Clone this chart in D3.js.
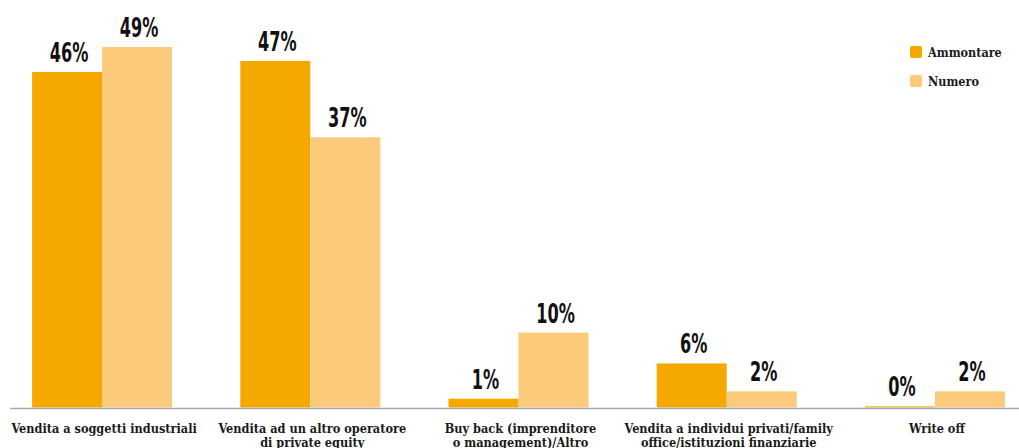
<!DOCTYPE html>
<html>
<head>
<meta charset="utf-8">
<script src="https://cdn.jsdelivr.net/npm/d3@7"></script>
<style>
  body { margin: 0; background: #fff; }
  svg { display: block; }
  .serif { font-family: 'DejaVu Serif Condensed', 'DejaVu Serif', serif; font-stretch: condensed; font-weight: bold; }
</style>
</head>
<body>
<div id="chart"></div>
<script>
(function() {
    let w = 1019, h = 448

    // data
    let categories = [
        "Vendita a soggetti industriali",
        "Vendita ad un altro operatore\ndi private equity",
        "Buy back (imprenditore\no management)/Altro",
        "Vendita a individui privati/family\noffice/istituzioni finanziarie",
        "Write off"
    ]
    let seriesNames = ["Ammontare", "Numero"]
    let ammontare = [45.7, 47.2, 1.2, 6.0, 0.15]
    let numero = [49.1, 36.8, 10.2, 2.2, 2.2]

    let colors = ["#f5a800", "#fcca7b"]

    let baseY = 407.5
    let svg = d3.select("#chart")
                .append("svg")
                .attr("width", w)
                .attr("height", h)

    let x = d3.scaleBand()
              .domain(categories)
              .range([-2, 1039])
              .paddingInner(0)
              .paddingOuter(0)

    let sub = d3.scaleBand()
                .domain(seriesNames)
                .range([x.bandwidth() / 2 - 70, x.bandwidth() / 2 + 70])

    let y = d3.scaleLinear()
              .domain([0, 49.1])
              .range([baseY, 47])

    let rows = categories.map((c, i) => ({
        cat: c,
        vals: [ammontare[i], numero[i]]
    }))

    let groups = svg.selectAll("g.grp")
                    .data(rows)
                    .enter()
                    .append("g")
                    .attr("class", "grp")
                    .attr("transform", d => "translate(" + x(d.cat) + ",0)")

    let cells = groups.selectAll("g.bar")
                      .data(d => d.vals.map((v, j) => ({ name: seriesNames[j], v: v, j: j })))
                      .enter()
                      .append("g")
                      .attr("class", "bar")

    cells.append("rect")
         .attr("x", d => sub(d.name))
         .attr("width", sub.bandwidth())
         .attr("y", d => y(d.v))
         .attr("height", d => baseY - y(d.v))
         .attr("fill", (d, i) => colors[d.j])

    // value labels, squeezed horizontally to get the condensed look
    cells.append("text")
         .text(d => Math.round(d.v) + "%")
         .attr("transform", d => "translate(" + (sub(d.name) + sub.bandwidth() / 2 + 2) + "," + (y(d.v) - 10) + ") scale(0.62,1.03)")
         .attr("text-anchor", "middle")
         .attr("font-family", "'DejaVu Sans', sans-serif")
         .attr("font-weight", "bold")
         .attr("font-size", "26")
         .attr("fill", "#111")

    // baseline
    svg.append("line")
       .attr("x1", 10).attr("x2", w)
       .attr("y1", 408.5).attr("y2", 408.5)
       .attr("stroke", "#aaa")
       .attr("stroke-width", 1.5)

    // category labels
    let lab = groups.append("text")
                    .attr("class", "serif")
                    .attr("text-anchor", "middle")
                    .attr("font-size", "12.6")
                    .attr("fill", "#1a1a1a")
    lab.selectAll("tspan")
       .data(d => d.cat.split("\n"))
       .enter()
       .append("tspan")
       .attr("x", x.bandwidth() / 2 + 2)
       .attr("y", (d, i) => 433 + i * 14)
       .text(d => d)

    // legend
    let legend = svg.selectAll("g.leg")
                    .data(seriesNames)
                    .enter()
                    .append("g")
                    .attr("class", "leg")
                    .attr("transform", (d, i) => "translate(910," + (46 + i * 29) + ")")
    legend.append("rect")
          .attr("width", 12).attr("height", 12)
          .attr("rx", 2)
          .attr("fill", (d, i) => colors[i])
    legend.append("text")
          .text(d => d)
          .attr("class", "serif")
          .attr("x", 18)
          .attr("y", 11)
          .attr("font-size", "12.5")
          .attr("fill", "#1a1a1a")
})()
</script>
</body>
</html>
